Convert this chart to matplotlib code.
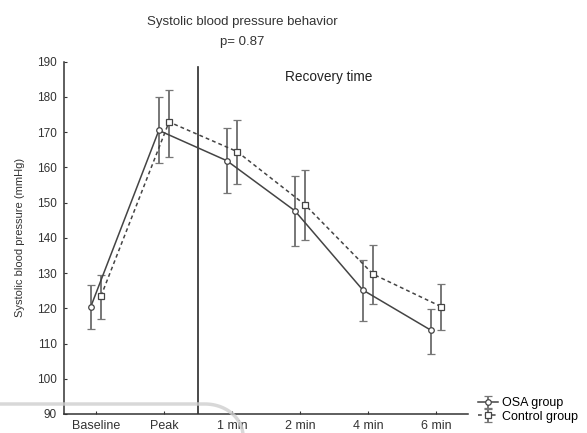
import numpy as np
import matplotlib.pyplot as plt
from matplotlib.lines import Line2D

plt.rcParams['font.family'] = ['Liberation Sans', 'DejaVu Sans']

categories = ['Baseline', 'Peak', '1 min', '2 min', '4 min', '6 min']

osa_mean = [120.5, 170.5, 161.9, 147.7, 125.2, 113.8]
osa_low = [114.2, 161.2, 152.6, 137.7, 116.5, 107.0]
osa_high = [126.7, 180.1, 171.1, 157.6, 133.7, 119.8]

ctrl_mean = [123.5, 172.9, 164.5, 149.4, 129.7, 120.5]
ctrl_low = [117.0, 162.9, 155.2, 139.4, 121.2, 113.8]
ctrl_high = [129.5, 182.0, 173.5, 159.3, 138.0, 126.9]

x = np.arange(len(categories))
off = 0.075
linecol = '#444444'
errcol = '#777777'
txtcol = '#333333'

fig = plt.figure(figsize=(5.87, 4.33), dpi=100)
ax = fig.add_axes([0.109, 0.0439, 0.797 - 0.109, 0.8136])

osa_err = [np.subtract(osa_mean, osa_low), np.subtract(osa_high, osa_mean)]
ctrl_err = [np.subtract(ctrl_mean, ctrl_low), np.subtract(ctrl_high, ctrl_mean)]

ax.errorbar(x - off, osa_mean, yerr=osa_err, fmt='-o', color=linecol, ecolor=errcol,
            elinewidth=1.4, capsize=3, capthick=1.1, lw=1.1, ms=4,
            mfc='white', mec=linecol, mew=0.9, label='OSA group')
ax.errorbar(x + off, ctrl_mean, yerr=ctrl_err, fmt='--s', color=linecol, ecolor=errcol,
            elinewidth=1.4, capsize=3, capthick=1.1, lw=1.1, ms=4, dashes=(2.5, 2),
            mfc='white', mec=linecol, mew=0.9, label='Control group')

# separator between exercise and recovery
ax.plot([1.5, 1.5], [90, 188.5], color='#2a2a2a', lw=1.2)
ax.text(3.42, 185.7, 'Recovery time', fontsize=9.8, ha='center', va='center', color='#222222')

ax.set_xlim(-0.47, 5.47)
ax.set_ylim(90, 190)
ax.set_yticks(np.arange(90, 191, 10))
ax.set_xticks(x)
ax.set_xticklabels(categories)
ax.tick_params(direction='in', length=2, width=0.8, colors=txtcol)
ax.tick_params(axis='x', labelsize=9, pad=4)
ax.tick_params(axis='y', labelsize=8.5, pad=5)
for s in ['top', 'right']:
    ax.spines[s].set_visible(False)
for s in ['left', 'bottom']:
    ax.spines[s].set_color('#333333')
    ax.spines[s].set_linewidth(1.1)
ax.set_ylabel('Systolic blood pressure (mmHg)', fontsize=8, color=txtcol, labelpad=9)

fig.text(242.5 / 587, 1 - 22 / 433, 'Systolic blood pressure behavior', fontsize=9.5,
         ha='center', va='center', color=txtcol)
fig.text(242 / 587, 1 - 42 / 433, 'p= 0.87', fontsize=9.5, ha='center', va='center', color=txtcol)

ax.legend(loc='center left', bbox_to_anchor=(478 / 587, 1 - 410 / 433), bbox_transform=fig.transFigure,
          frameon=False, fontsize=9, handlelength=1.6, handletextpad=0.3, labelspacing=0.1,
          borderpad=0, borderaxespad=0)

# faint scan artefact across the lower left corner
t = np.linspace(0, np.pi / 2, 30)
arc_x = np.concatenate([[0, 205], 205 + 38 * np.sin(t)]) / 587
arc_y = 1 - np.concatenate([[404, 404], 404 + 32 * (1 - np.cos(t))]) / 433
fig.add_artist(Line2D(arc_x, arc_y, transform=fig.transFigure, color='#cfcfcf', lw=2.5,
                      alpha=0.8, zorder=10))

fig.savefig('out.png', dpi=100)
